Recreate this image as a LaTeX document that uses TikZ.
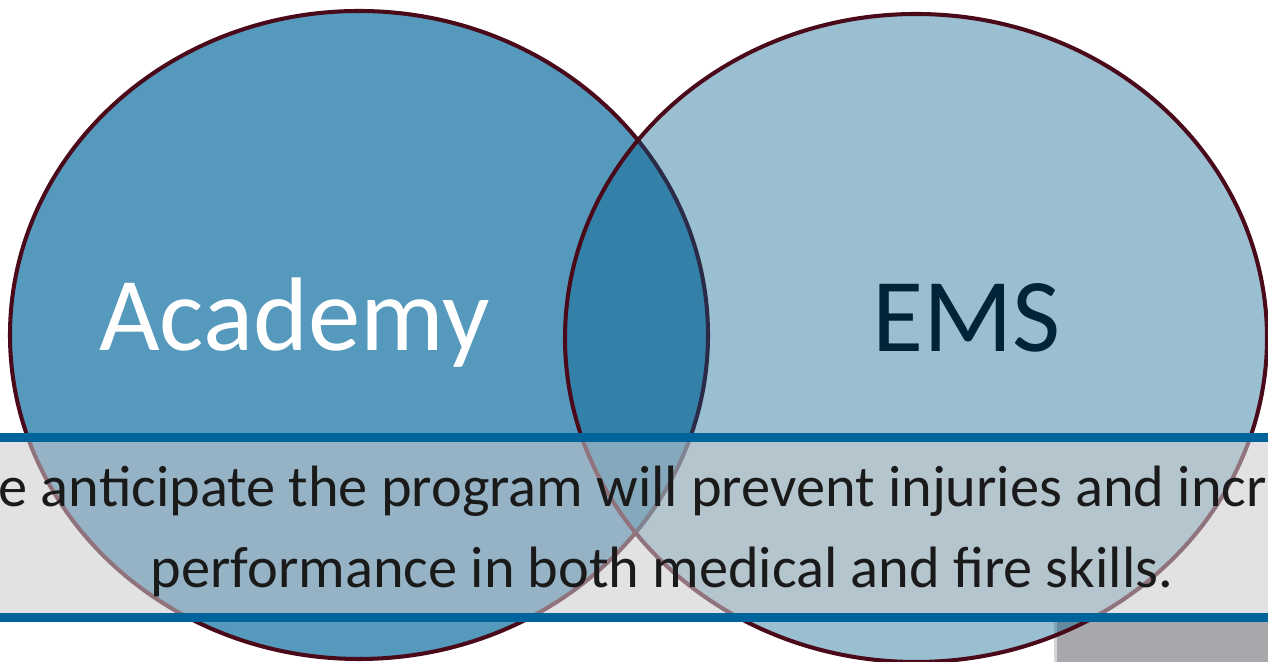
\documentclass[tikz,border=0pt]{standalone}
\usepackage{fontspec}
\setmainfont{Carlito}
\begin{document}
\begin{tikzpicture}[
    outline/.style={draw=maroon, line width=1.15pt},
    bandline/.style={draw=bandblue, line width=0.09cm},
    bigtext/.style={font=\fontsize{29.8}{36}\selectfont, anchor=base, inner sep=0pt},
    bandtext/.style={font=\fontsize{16.6}{20}\selectfont, text=textdark, anchor=base, inner sep=0pt},
]
\definecolor{leftblue}{HTML}{5599BD}
\definecolor{rightblue}{RGB}{0,94,140}
\definecolor{maroon}{HTML}{4A0A1A}
\definecolor{bandgray}{RGB}{202,202,205}
\definecolor{bandblue}{HTML}{00649C}
\definecolor{textdark}{HTML}{1A1A1A}
\definecolor{emstext}{HTML}{002538}
\definecolor{boxgray}{HTML}{A7A8AC}
\definecolor{boxedge}{HTML}{D4D5D7}
\clip (0,0) rectangle (12.68,6.62);

% Grey block in the corner
\fill[boxedge] (10.54,0) rectangle (12.68,0.40);
\fill[boxgray] (10.57,0) rectangle (12.68,0.40);

% The two circles
\path[outline, fill=leftblue] (3.59,3.27) ellipse [x radius=3.49, y radius=3.24];
\path[outline, fill=rightblue, fill opacity=0.4] (9.16,3.24) ellipse [x radius=3.51, y radius=3.24];

\node[bigtext, text=white] (academy) at (2.945,3.11) {Academy};
\node[bigtext, text=emstext] (ems) at (9.665,3.10) {EMS};

% Band across the bottom
\fill[bandgray, opacity=0.55] (0,0.445) rectangle (12.68,2.245);
\draw[bandline] (0,2.245) -- (12.68,2.245);
\draw[bandline] (0,0.445) -- (12.68,0.445);

\node[bandtext] (line1) at (6.62,1.55) {We anticipate the program will prevent injuries and increase};
\node[bandtext] (line2) at (6.62,0.74) {performance in both medical and fire skills.};
\end{tikzpicture}
\end{document}
